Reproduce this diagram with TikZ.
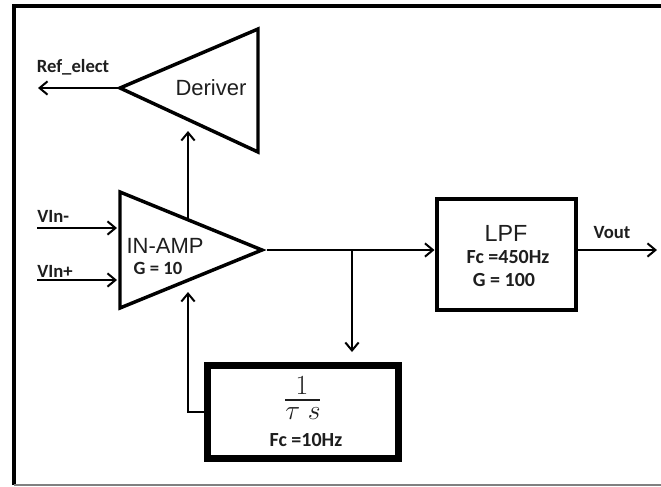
\documentclass[tikz,border=0pt]{standalone}
\usepackage[no-math]{fontspec}
\setmainfont{Liberation Sans}
\newfontfamily\carlito{Carlito}
\usetikzlibrary{arrows.meta}
\definecolor{ink}{HTML}{1E1E1E}
\begin{document}
\begin{tikzpicture}[x=0.75pt,y=-0.75pt,
  frame/.style={line width=2.3pt},
  tri/.style={line width=2.6pt,line join=miter},
  conn/.style={line width=1.5pt,-{Straight Barb[length=6pt,width=10pt,line width=1.5pt]}},
  wire/.style={line width=1.5pt},
  lbl/.style={font=\carlito\bfseries\fontsize{14}{16}\selectfont,text=ink,inner sep=0pt},
  lblb/.style={font=\carlito\bfseries\fontsize{15}{17}\selectfont,text=ink,inner sep=0pt},
  big/.style={font=\fontsize{16.5}{19}\selectfont,text=ink,inner sep=0pt},
  mathtxt/.style={font=\fontsize{20}{22}\selectfont,text=ink,inner sep=0pt},
  blockbox/.style={draw,fill=white,inner sep=0pt}]
\useasboundingbox (0,0) rectangle (661,486);
% outer frame
\draw[frame] (14,485) -- (14,6) -- (662,6);
\draw[gray,line width=0.8pt] (14,485) -- (662,485);

% Deriver triangle
\coordinate (d1) at (258,29);
\coordinate (d2) at (258,152);
\coordinate (d3) at (120,88);
\draw[tri] (d1) -- (d2) -- (d3) -- cycle;
\node[big] (der) at (211,88) {Deriver};
\coordinate (refe) at (38,88);
\draw[conn] (d3) -- (refe);
\node[lbl] (reflbl) at (73,67) {Ref\_elect};

% IN-AMP triangle
\coordinate (ia1) at (120,192);
\coordinate (ia2) at (120,308);
\coordinate (ia3) at (262,250);
\draw[tri] (ia1) -- (ia3) -- (ia2) -- cycle;
\node[big] (inamp) at (165,246) {IN-AMP};
\node[lbl] (g10) at (158,268) {G = 10};

% inputs
\coordinate (vinmS) at (37,228);
\coordinate (vinmE) at (117,228);
\coordinate (vinpS) at (37,280);
\coordinate (vinpE) at (117,280);
\draw[conn] (vinmS) -- (vinmE);
\draw[conn] (vinpS) -- (vinpE);
\node[lbl,anchor=west] (vinm) at (37,216) {VIn-};
\node[lbl,anchor=west] (vinp) at (37,271) {VIn+};

% IN-AMP -> Deriver
\coordinate (upS) at (188,219);
\coordinate (upE) at (188,131);
\draw[conn] (upS) -- (upE);

% LPF block
\node[blockbox,line width=3pt,minimum width=104.25pt,minimum height=83.6pt] (lpf) at (506,254.25) {};
\node[big,font=\fontsize{17.5}{20}\selectfont] (lpft) at (506,233) {LPF};
\node[lblb] (lpffc) at (508,257) {Fc =450Hz};
\node[lblb] (lpfg) at (504,280) {G = 100};

% output wire
\coordinate (outs) at (267,250);
\coordinate (junc) at (352,250);
\draw[conn] (outs) -- (outs -| lpf.west);
\coordinate (down) at (352,352);
\draw[conn] (junc) -- (down);

% Vout
\coordinate (vout) at (657,250);
\draw[conn] (lpf.east |- outs) -- (vout);
\node[lbl] (voutl) at (612,233) {Vout};

% integrator block
\node[blockbox,line width=5.25pt,minimum width=143.6pt,minimum height=70.1pt] (intg) at (302.75,412.25) {};
\node[mathtxt] (num) at (302,386) {$1$};
\draw[line width=1pt,ink] (285,400) -- (320,400);
\node[mathtxt] (den) at (303,414) {$\tau\;s$};
\node[lblb] (intfc) at (306,440) {Fc =10Hz};

% feedback
\coordinate (fbtip) at (188,292);
\draw[conn] (intg.west) -| (fbtip);
\end{tikzpicture}
\end{document}
